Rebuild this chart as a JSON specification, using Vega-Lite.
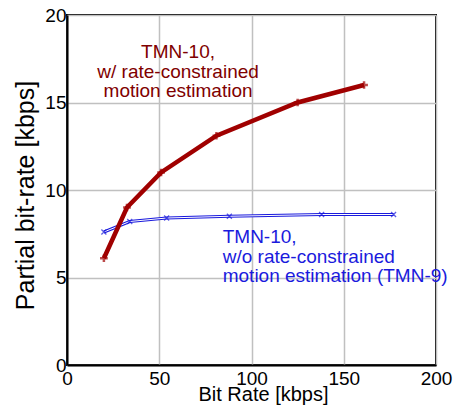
{
  "$schema": "https://vega.github.io/schema/vega-lite/v6.json",
  "width": 369,
  "height": 350,
  "autosize": "none",
  "padding": {"left": 67, "top": 15, "right": 23, "bottom": 41},
  "background": "white",
  "config": {
    "font": "Liberation Sans",
    "view": {"stroke": "black", "strokeWidth": 2},
    "axis": {"grid": true, "gridColor": "#c0c0c0", "gridWidth": 1.5, "gridOpacity": 1, "domainColor": "black", "domainWidth": 2, "ticks": false, "labelFlush": false, "labelOverlap": false, "labelFont": "Liberation Sans", "labelFontSize": 19, "labelColor": "black", "titleFont": "Liberation Sans", "titleFontWeight": "normal", "titleColor": "black"}
  },
  "datasets": {
    "red": [
      {"x": 20, "y": 6.1},
      {"x": 32.5, "y": 9.0},
      {"x": 51, "y": 11.0},
      {"x": 81, "y": 13.1},
      {"x": 125, "y": 15.0},
      {"x": 161, "y": 16.0}
    ],
    "blue": [
      {"x": 20, "y": 7.6},
      {"x": 34, "y": 8.2},
      {"x": 54, "y": 8.4},
      {"x": 88, "y": 8.5},
      {"x": 138, "y": 8.6},
      {"x": 177, "y": 8.6}
    ],
    "redtext": [
      {"x": 60.2, "y": 17.9, "t": "TMN-10,"},
      {"x": 60.2, "y": 16.76, "t": "w/ rate-constrained"},
      {"x": 60.2, "y": 15.67, "t": "motion estimation"}
    ],
    "bluetext": [
      {"x": 84.4, "y": 7.31, "t": "TMN-10,"},
      {"x": 84.4, "y": 6.2, "t": "w/o rate-constrained"},
      {"x": 84.4, "y": 5.09, "t": "motion estimation (TMN-9)"}
    ]
  },
  "encoding": {
    "x": {"field": "x", "type": "quantitative", "scale": {"domain": [0, 200], "nice": false},
      "axis": {"values": [0, 50, 100, 150, 200], "labelPadding": 4, "title": "Bit Rate [kbps]", "titleFontSize": 20, "titlePadding": -4, "titleX": 196, "titleAlign": "center"}},
    "y": {"field": "y", "type": "quantitative", "scale": {"domain": [0, 20], "nice": false},
      "axis": {"values": [0, 5, 10, 15, 20], "labelPadding": 1, "title": "Partial bit-rate [kbps]", "titleFontSize": 25, "titleX": -34, "titleY": 180, "titleAngle": -90, "titleAlign": "center", "titleBaseline": "alphabetic"}}
  },
  "layer": [
    {"data": {"name": "blue"}, "mark": {"type": "line", "color": "#1a1add", "strokeWidth": 3.2}},
    {"data": {"name": "blue"}, "mark": {"type": "line", "color": "white", "strokeWidth": 1}},
    {"data": {"name": "blue"}, "mark": {"type": "point", "shape": "M-1,-1L1,1M-1,1L1,-1", "size": 25, "color": "#1a1add", "strokeWidth": 1.3, "filled": false}},
    {"data": {"name": "red"}, "mark": {"type": "line", "color": "#a00000", "strokeWidth": 4.5}},
    {"data": {"name": "red"}, "mark": {"type": "point", "shape": "M-1,0L1,0M0,-1L0,1", "size": 60, "color": "#a00000", "strokeWidth": 2.5, "filled": false}},
    {"data": {"name": "redtext"}, "mark": {"type": "text", "font": "Liberation Sans", "fontSize": 19, "color": "#800000", "align": "center", "baseline": "middle"}, "encoding": {"text": {"field": "t"}}},
    {"data": {"name": "bluetext"}, "mark": {"type": "text", "font": "Liberation Sans", "fontSize": 19, "color": "#1a1add", "align": "left", "baseline": "middle"}, "encoding": {"text": {"field": "t"}}}
  ]
}
